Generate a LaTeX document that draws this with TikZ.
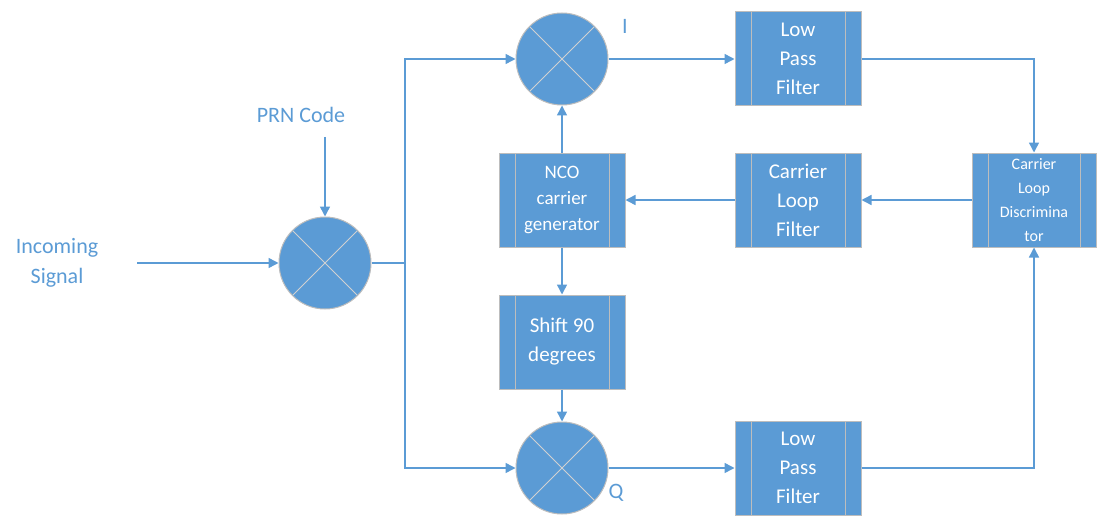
\documentclass[tikz,border=0pt]{standalone}
\usepackage{fontspec}
\setmainfont{Carlito}
\usepackage{tikz}
\usetikzlibrary{arrows.meta}
\definecolor{azul}{HTML}{5B9BD5}
\definecolor{borde}{HTML}{BDBDBD}

\tikzset{
  mezclador/.style={circle, fill=azul, draw=borde, line width=1pt, minimum size=92pt, inner sep=0pt,
    path picture={
      \draw[borde!70, line width=0.8pt] (path picture bounding box.north west) -- (path picture bounding box.south east);
      \draw[borde!70, line width=0.8pt] (path picture bounding box.north east) -- (path picture bounding box.south west);
    }},
  bloque/.style={rectangle, fill=azul, draw=borde, line width=1pt, minimum width=126pt, minimum height=94pt,
    inner sep=0pt, text=white, align=center, font=\fontsize{21}{29}\selectfont,
    path picture={
      \draw[borde, line width=1pt] ([xshift=16pt]path picture bounding box.north west) -- ([xshift=16pt]path picture bounding box.south west);
      \draw[borde, line width=1pt] ([xshift=-16pt]path picture bounding box.north east) -- ([xshift=-16pt]path picture bounding box.south east);
    }},
  etiqueta/.style={text=azul, align=center, font=\fontsize{22}{30}\selectfont},
  flecha/.style={draw=azul, line width=1.5pt, -{Triangle[width=10pt,length=10pt]}},
  linea/.style={draw=azul, line width=1.5pt}
}

\begin{document}
\begin{tikzpicture}[x=1pt, y=-1pt]
\useasboundingbox (0,0) rectangle (1097,516);

% Entrada y codigo PRN
\node[etiqueta] (entrada) at (57,263) {Incoming\\Signal};
\node[etiqueta] (prn) at (301,115) {PRN Code};
\node[mezclador] (mixP) at (325,263) {};
\coordinate (inicio) at (137,263);
\coordinate (prnInicio) at (325,137);
\coordinate (rama) at (405,263);

% Mezcladores I y Q
\node[mezclador] (mixI) at (562,59) {};
\node[mezclador] (mixQ) at (562,468) {};
\node[etiqueta] (etiqI) at (625,26) {I};
\node[etiqueta] (etiqQ) at (616,493) {Q};

% Bloques
\node[bloque] (lpfI) at (798,59) {Low\\Pass\\Filter};
\node[bloque] (lpfQ) at (798,468) {Low\\Pass\\Filter};
\node[bloque, font=\fontsize{19}{26}\selectfont] (nco) at (562,200) {NCO\\carrier\\generator};
\node[bloque] (clf) at (798,200) {Carrier\\Loop\\Filter};
\node[bloque] (shift) at (562,342) {Shift 90\\degrees};
\node[bloque, minimum width=124pt, font=\fontsize{16}{24}\selectfont] (disc) at (1034,200) {Carrier\\Loop\\Discrimina\\tor};

% Flechas
\draw[flecha] (inicio) -- (mixP);
\draw[flecha] (prnInicio) -- (mixP);
\draw[linea] (mixP.east) -- (rama);
\draw[flecha] (rama) |- (mixI.west);
\draw[flecha] (rama) |- (mixQ.west);
\draw[flecha] (mixI) -- (lpfI);
\draw[flecha] (mixQ) -- (lpfQ);
\draw[flecha] (lpfI.east) -| (disc.north);
\draw[flecha] (lpfQ.east) -| (disc.south);
\draw[flecha] (disc) -- (clf);
\draw[flecha] (clf) -- (nco);
\draw[flecha] (nco) -- (mixI);
\draw[flecha] (nco) -- (shift);
\draw[flecha] (shift) -- (mixQ);
\end{tikzpicture}
\end{document}
